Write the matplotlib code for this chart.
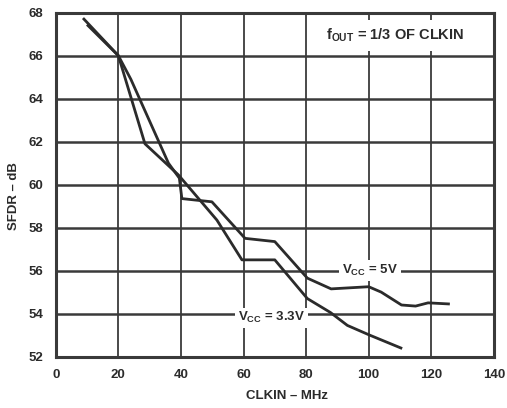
import matplotlib
matplotlib.use("Agg")
import matplotlib.pyplot as plt

plt.rcParams['font.family'] = ['Liberation Sans', 'DejaVu Sans']
plt.rcParams['font.weight'] = 'bold'
plt.rcParams['mathtext.fontset'] = 'custom'
plt.rcParams['mathtext.rm'] = 'Liberation Sans:bold'
plt.rcParams['mathtext.default'] = 'rm'

# SFDR vs clock frequency, two supply voltages
clk_5v = [9, 20, 24, 28, 32, 36, 39.5, 40.3, 49.9, 60.5, 70, 80.4, 88, 100, 104, 110.5, 115, 119, 125.5]
sfdr_5v = [67.7, 66.0, 64.9, 63.6, 62.3, 61.0, 60.3, 59.35, 59.2, 57.5, 57.35, 55.65, 55.15, 55.25, 55.0, 54.4, 54.35, 54.5, 54.45]

clk_33v = [10.3, 20, 28.5, 39.2, 51.5, 59.5, 70, 80.4, 87.8, 93.2, 100.3, 110.3]
sfdr_33v = [67.4, 66.0, 61.9, 60.45, 58.35, 56.5, 56.5, 54.7, 54.05, 53.45, 53.0, 52.4]

x_ticks = [0, 20, 40, 60, 80, 100, 120, 140]
y_ticks = [52, 54, 56, 58, 60, 62, 64, 66, 68]

ink = '#2b2b2b'
grid_ink = '#3a3a3a'

fig = plt.figure(figsize=(5.07, 4.08), dpi=100)
ax = fig.add_axes([0.110, 0.126, 0.864, 0.843])

ax.set_xlim(0, 140)
ax.set_ylim(52, 68)
ax.set_xticks(x_ticks)
ax.set_yticks(y_ticks)
ax.tick_params(length=0, labelsize=9.5, colors=ink, pad=9)
for lab in ax.get_xticklabels() + ax.get_yticklabels():
    lab.set_fontweight('bold')

for v in y_ticks[1:-1]:
    ax.axhline(v, color=grid_ink, lw=1.8, zorder=1)
for v in x_ticks[1:-1]:
    ax.axvline(v, color=grid_ink, lw=1.3, zorder=1)
for s in ax.spines.values():
    s.set_color(grid_ink)
    s.set_linewidth(2.2)

ax.plot(clk_5v, sfdr_5v, color=ink, lw=2.0, zorder=3, solid_joinstyle='round')
ax.plot(clk_33v, sfdr_33v, color=ink, lw=2.0, zorder=3, solid_joinstyle='round')

box = dict(facecolor='white', edgecolor='none', pad=2)
ax.text(108.5, 66.95, r'f$_{\rm OUT}$ = 1/3 OF CLKIN', fontsize=10.5, ha='center', va='center',
        color=ink, bbox=dict(facecolor='white', edgecolor='none', pad=5), zorder=4)
ax.text(100.5, 56.0, r'V$_{\rm CC}$ = 5V', fontsize=9.5, ha='center', va='center',
        color=ink, bbox=box, zorder=4)
ax.text(69, 53.8, r'V$_{\rm CC}$ = 3.3V', fontsize=9.5, ha='center', va='center',
        color=ink, bbox=box, zorder=4)

ax.set_xlabel('CLKIN – MHz', fontsize=9.5, fontweight='bold', color=ink)
ax.set_ylabel('SFDR – dB', fontsize=9.5, fontweight='bold', color=ink)
ax.xaxis.set_label_coords(0.527, -0.098)
ax.yaxis.set_label_coords(-0.082, 0.467)

fig.savefig('out.png', dpi=100)
